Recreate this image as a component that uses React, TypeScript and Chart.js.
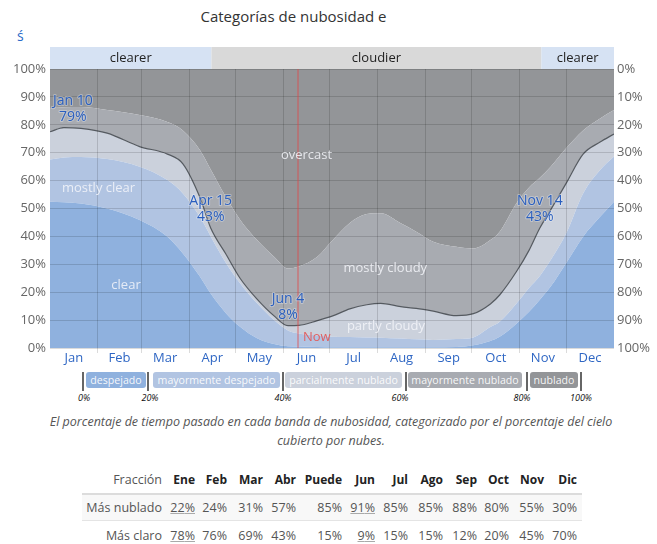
import { useEffect, useRef } from 'react';
import { Chart, registerables } from 'chart.js';

Chart.register(...registerables);

const FONT = "'Open Sans', sans-serif";

// ---- chart data (day of year, cumulative % of time at or below band top) ----
const days = [0, 9, 20, 37, 58, 76, 86, 97, 104, 114, 123, 134, 145, 154, 161, 173, 183, 194, 205, 214, 227, 237, 248, 263, 274, 285, 291, 302, 310, 317, 324, 334, 345, 356, 365];
const clearTop = [52.4, 52.2, 51.8, 50, 45.9, 39.9, 33.9, 25.6, 19.5, 12.4, 7.6, 3.5, 1.4, 0.6, 0.5, 0.4, 0.3, 0.3, 0.3, 0.3, 0.3, 0.3, 0.3, 0.4, 1, 2.5, 4, 8.8, 13, 17.3, 22, 30.4, 39.9, 47, 52.4];
const mostlyClearTop = [67.6, 68.3, 68.5, 67.7, 65, 60.2, 55.4, 47, 40, 30.4, 23.2, 16, 10, 6.3, 5.2, 4.5, 4, 3.9, 3.8, 3.7, 3.4, 3.1, 2.9, 3.2, 3.8, 7.5, 9.4, 16, 21.5, 25.8, 31.5, 41, 55.4, 63.8, 68.6];
const partlyCloudyTop = [77.5, 79, 78.7, 77, 72.2, 69.5, 66, 54, 43, 33.5, 25, 17.5, 11.5, 8, 8.1, 9.8, 11.5, 14, 15.5, 16, 14.8, 14.2, 13.2, 11.6, 12.3, 15.8, 19, 27.5, 35, 43, 49.5, 59, 69.5, 73.8, 76.7];
const mostlyCloudyTop = [86, 86.3, 86.4, 85.3, 83.5, 81, 78, 71, 64, 54, 46, 38.7, 32.7, 28.5, 29.2, 32.7, 38.7, 44.8, 48, 48.3, 44.7, 41.7, 38.1, 36.3, 35.7, 38.7, 41.7, 52, 57.5, 61, 65, 71.6, 78, 82.3, 85.3];
const overcastTopDays = [0, 365];
const overcastTop = [100, 100];

const highlightDays = [9, 104, 154, 317];
const highlightValues = [79, 43, 8, 43];
const highlightNames = ['Jan 10', 'Apr 15', 'Jun 4', 'Nov 14'];

const monthStarts = [0, 31, 59, 90, 120, 151, 181, 212, 243, 273, 304, 334, 365];
const monthLabels = ['Jan', 'Feb', 'Mar', 'Apr', 'May', 'Jun', 'Jul', 'Aug', 'Sep', 'Oct', 'Nov', 'Dec'];
const yTicks = [0, 10, 20, 30, 40, 50, 60, 70, 80, 90, 100];

const nowDay = 160.5;
const bandEdges = [0, 104.5, 318, 365];
const bandLabels = ['clearer', 'cloudier', 'clearer'];

const regionTexts = ['overcast', 'mostly clear', 'clear', 'mostly cloudy', 'partly cloudy'];
const regionDays = [166, 31.4, 49.2, 217, 217.4];
const regionPcts = [69.2, 57.3, 22.6, 28.7, 7.9];

// ---- legend + table data ----
const legendLabels = ['despejado', 'mayormente despejado', 'parcialmente nublado', 'mayormente nublado', 'nublado'];
const legendTicks = ['0%', '20%', '40%', '60%', '80%', '100%'];

const tableMonths = ['Ene', 'Feb', 'Mar', 'Abr', 'Puede', 'Jun', 'Jul', 'Ago', 'Sep', 'Oct', 'Nov', 'Dic'];
const cloudierPct = [22, 24, 31, 57, 85, 91, 85, 85, 88, 80, 55, 30];
const clearerPct = [78, 76, 69, 43, 15, 9, 15, 15, 12, 20, 45, 70];
const underlined = [0, 5];

// ---- styles ----
const COL = {
  clear: '#8fb1de',
  mostlyClear: '#b1c4e2',
  partly: '#cbd1dc',
  mostlyCloudy: '#a8abb1',
  overcast: '#939598',
};
const legendColors = [COL.clear, COL.mostlyClear, COL.partly, COL.mostlyCloudy, COL.overcast];
const GRID = 'rgba(0,0,0,0.14)';

const legendBoxes = [[86, 146], [153, 280], [285, 402], [408, 522], [530, 578]];
const legendSeps = [83, 148, 283, 406, 527, 581];
const legendTickX = [84, 150, 283, 400, 522, 581];
const colRight = [195, 227, 263, 296, 342, 375, 408, 443, 477, 509, 544, 577];

const overlayPlugin = {
  id: 'overlay',
  afterDraw(chart: any) {
    const { ctx, chartArea: a, scales } = chart;
    const x = scales.x;
    const y = scales.y;
    ctx.save();
    // clearer / cloudier band
    const bandColors = ['#d6e2f3', '#d9d9d9', '#d6e2f3'];
    for (let i = 0; i < bandLabels.length; i++) {
      const x0 = x.getPixelForValue(bandEdges[i]);
      const x1 = x.getPixelForValue(bandEdges[i + 1]);
      ctx.fillStyle = bandColors[i];
      ctx.fillRect(x0, a.top - 22, x1 - x0, 22);
      ctx.fillStyle = '#222';
      ctx.font = `13px ${FONT}`;
      ctx.textAlign = 'center';
      ctx.textBaseline = 'middle';
      ctx.fillText(bandLabels[i], (x0 + x1) / 2, a.top - 11);
    }
    // now line
    const nx = x.getPixelForValue(nowDay);
    ctx.strokeStyle = 'rgba(228,70,70,0.65)';
    ctx.lineWidth = 1.2;
    ctx.beginPath();
    ctx.moveTo(nx, a.top);
    ctx.lineTo(nx, a.bottom);
    ctx.stroke();
    ctx.fillStyle = '#e25f5f';
    ctx.font = `13px ${FONT}`;
    ctx.textAlign = 'left';
    ctx.fillText('Now', nx + 5, y.getPixelForValue(3.9));
    // region names
    ctx.fillStyle = 'rgba(244,246,250,0.85)';
    ctx.textAlign = 'center';
    for (let i = 0; i < regionTexts.length; i++) {
      ctx.fillText(regionTexts[i], x.getPixelForValue(regionDays[i]), y.getPixelForValue(regionPcts[i]));
    }
    // highlight labels
    const meta = chart.getDatasetMeta(5);
    ctx.font = `14px ${FONT}`;
    ctx.lineJoin = 'round';
    meta.data.forEach((pt: any, i: number) => {
      const l1 = highlightNames[i];
      const l2 = highlightValues[i] + '%';
      const w = Math.max(ctx.measureText(l1).width, ctx.measureText(l2).width);
      let cx = pt.x;
      cx = Math.max(cx, a.left + 3 + w / 2);
      cx = Math.min(cx, a.right - 3 - w / 2);
      ctx.strokeStyle = 'rgba(240,244,250,0.35)';
      ctx.lineWidth = 2;
      ctx.strokeText(l1, cx, pt.y - 27);
      ctx.strokeText(l2, cx, pt.y - 11);
      ctx.fillStyle = '#2a5fbf';
      ctx.fillText(l1, cx, pt.y - 27);
      ctx.fillText(l2, cx, pt.y - 11);
    });
    ctx.restore();
  },
};

function CloudChart() {
  const ref = useRef<HTMLCanvasElement>(null);
  useEffect(() => {
    const el = ref.current;
    if (!el) return;
    const mk = (xs: number[], vals: number[]) => xs.map((d, i) => ({ x: d, y: vals[i] }));
    const monthMids = monthLabels.map((_, i) => (monthStarts[i] + monthStarts[i + 1]) / 2);
    const inner = monthStarts.slice(1, -1);
    const xTickVals = [...inner, ...monthMids].sort((p, q) => p - q);
    const base = { pointRadius: 0, borderWidth: 0, cubicInterpolationMode: 'monotone' as const };
    const chart = new Chart(el, {
      type: 'line',
      data: {
        datasets: [
          { label: 'clear', data: mk(days, clearTop), fill: 'origin', backgroundColor: COL.clear, ...base },
          { label: 'mostly clear', data: mk(days, mostlyClearTop), fill: '-1', backgroundColor: COL.mostlyClear, ...base },
          { label: 'partly cloudy', data: mk(days, partlyCloudyTop), fill: '-1', backgroundColor: COL.partly, ...base, borderWidth: 1.2, borderColor: '#555a60' },
          { label: 'mostly cloudy', data: mk(days, mostlyCloudyTop), fill: '-1', backgroundColor: COL.mostlyCloudy, ...base },
          { label: 'overcast', data: mk(overcastTopDays, overcastTop), fill: '-1', backgroundColor: COL.overcast, ...base },
          { label: 'highlights', data: mk(highlightDays, highlightValues), showLine: false, fill: false, pointRadius: 2.2, pointBackgroundColor: '#000', pointBorderWidth: 0 },
        ],
      },
      options: {
        responsive: false,
        animation: false,
        devicePixelRatio: 1,
        layout: { padding: { top: 69, left: 0, right: 0, bottom: 0 } },
        plugins: { legend: { display: false }, tooltip: { enabled: false }, title: { display: false } },
        scales: {
          x: {
            type: 'linear',
            min: 0,
            max: 365,
            afterBuildTicks: (s: any) => { s.ticks = xTickVals.map((v) => ({ value: v })); },
            afterFit: (s: any) => { s.height = 22; },
            border: { display: false },
            grid: {
              z: 1,
              color: (c: any) => (c.tick && inner.includes(c.tick.value) ? GRID : 'rgba(0,0,0,0)'),
              tickLength: 5,
              drawTicks: true,
            },
            ticks: {
              autoSkip: false,
              maxRotation: 0,
              padding: -3,
              color: '#2f67c4',
              font: { size: 13, family: FONT },
              callback: (v: any) => {
                const idx = monthMids.indexOf(Number(v));
                return idx >= 0 ? monthLabels[idx] : '';
              },
            },
          },
          y: {
            min: 0,
            max: 100,
            position: 'left',
            afterBuildTicks: (s: any) => { s.ticks = yTicks.map((v) => ({ value: v })); },
            afterFit: (s: any) => { s.width = 50; },
            border: { display: false },
            grid: { z: 1, color: GRID, drawTicks: false },
            ticks: { padding: 4, color: '#666', font: { size: 13, family: FONT }, callback: (v: any) => v + '%' },
          },
          y1: {
            min: 0,
            max: 100,
            reverse: true,
            position: 'right',
            afterBuildTicks: (s: any) => { s.ticks = yTicks.map((v) => ({ value: v })); },
            afterFit: (s: any) => { s.width = 43; },
            border: { display: false },
            grid: { display: false, drawTicks: false },
            ticks: { padding: 3, color: '#666', font: { size: 13, family: FONT }, callback: (v: any) => v + '%' },
          },
        },
      },
      plugins: [overlayPlugin],
    } as any);
    return () => chart.destroy();
  }, []);
  return <canvas ref={ref} width={657} height={370} style={{ position: 'absolute', left: 0, top: 0, width: 657, height: 370 }} />;
}

const abs = (left: number, top: number): any => ({ position: 'absolute', left, top });

export default function App() {
  return (
    <div style={{ position: 'absolute', left: 0, top: 0, width: 657, height: 544, overflow: 'hidden', background: '#fff', fontFamily: FONT }}>
      <div style={{ ...abs(0, 5), width: 587, textAlign: 'center', fontSize: 15, lineHeight: '22px', color: '#333' }}>Categorías de nubosidad e</div>
      <div style={{ ...abs(17, 27), fontSize: 14, lineHeight: '18px', color: '#2a6ac8' }}>ś</div>
      <CloudChart />
      {/* legend */}
      {legendSeps.map((sx, i) => (
        <div key={'s' + i} style={{ ...abs(sx - 1, 372), width: 1.5, height: 19, background: '#666' }} />
      ))}
      {legendLabels.map((t, i) => (
        <div key={'l' + i} style={{ ...abs(legendBoxes[i][0], 372), width: legendBoxes[i][1] - legendBoxes[i][0], height: 16, borderRadius: 3, background: legendColors[i], color: 'rgba(255,255,255,0.92)', fontSize: 10.6, lineHeight: '16px', textAlign: 'center', whiteSpace: 'nowrap', overflow: 'visible' }}>{t}</div>
      ))}
      {legendTicks.map((t, i) => (
        <div key={'t' + i} style={{ ...abs(legendTickX[i] - 20, 391), width: 40, textAlign: 'center', fontSize: 9, lineHeight: '13px', fontStyle: 'italic', color: '#111' }}>{t}</div>
      ))}
      {/* caption */}
      <div style={{ ...abs(31, 412), width: 600, textAlign: 'center', fontSize: 12.5, lineHeight: '19px', fontStyle: 'italic', color: '#555' }}>
        El porcentaje de tiempo pasado en cada banda de nubosidad, categorizado por el porcentaje del cielo<br />cubierto por nubes.
      </div>
      {/* table */}
      <div style={{ ...abs(82, 493), width: 500, height: 28, background: '#f8f8f8', borderTop: '2px solid #dcdcdc', borderBottom: '1px solid #e4e4e4', boxSizing: 'border-box' }} />
      <div style={{ position: 'absolute', right: 657 - 162, top: 471, fontSize: 12.5, lineHeight: '18px', color: '#555', whiteSpace: 'nowrap' }}>Fracción</div>
      <div style={{ position: 'absolute', right: 657 - 162, top: 499, fontSize: 12.5, lineHeight: '18px', color: '#555', whiteSpace: 'nowrap' }}>Más nublado</div>
      <div style={{ position: 'absolute', right: 657 - 162, top: 527, fontSize: 12.5, lineHeight: '18px', color: '#555', whiteSpace: 'nowrap' }}>Más claro</div>
      {tableMonths.map((m, i) => (
        <div key={'h' + i} style={{ position: 'absolute', right: 657 - colRight[i], top: 471, fontSize: 12, lineHeight: '18px', fontWeight: 700, color: '#222', whiteSpace: 'nowrap' }}>{m}</div>
      ))}
      {cloudierPct.map((v, i) => (
        <div key={'c' + i} style={{ position: 'absolute', right: 657 - colRight[i], top: 499, fontSize: 12.5, lineHeight: '18px', color: '#555', whiteSpace: 'nowrap', textDecoration: underlined.includes(i) ? 'underline' : 'none', textDecorationColor: '#aaa' }}>{v}%</div>
      ))}
      {clearerPct.map((v, i) => (
        <div key={'k' + i} style={{ position: 'absolute', right: 657 - colRight[i], top: 527, fontSize: 12.5, lineHeight: '18px', color: '#555', whiteSpace: 'nowrap', textDecoration: underlined.includes(i) ? 'underline' : 'none', textDecorationColor: '#aaa' }}>{v}%</div>
      ))}
    </div>
  );
}
